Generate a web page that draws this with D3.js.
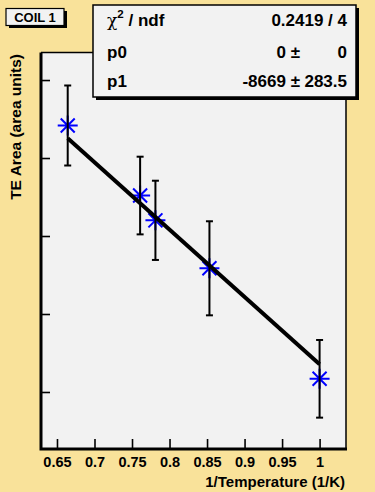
<!DOCTYPE html>
<html>
<head>
<meta charset="utf-8">
<script src="https://cdn.jsdelivr.net/npm/d3@7"></script>
<style>
  body { margin: 0; background: #f9e29c; }
  svg { display: block; font-family: "Liberation Sans", Arial, sans-serif; font-weight: bold; }
</style>
</head>
<body>
<svg id="chart" width="375" height="492"></svg>
<script>
// data
const invTemp = [0.6643, 0.7608, 0.7812, 0.8532, 1.0];
const teArea = [4417, 3519, 3201, 2586, 1169];
const teErr = [513, 498, 508, 603, 498];
const fitX = [0.6643, 1.0];
const fitY = [4253, 1355];

const xMajor = [0.65, 0.7, 0.75, 0.8, 0.85, 0.9, 0.95, 1.0];
const xTickLabels = ["0.65", "0.7", "0.75", "0.8", "0.85", "0.9", "0.95", "1"];
const xMinor = d3.range(63, 104).map((d) => d / 100);
const yMajor = [1000, 2000, 3000, 4000, 5000];
const yMinor = d3.range(2, 27).map((d) => d * 200);

const statNames = ["p0", "p1"];
const statVals = ["0", "-8669"];
const statErrs = ["0", "283.5"];

renderChart();

function renderChart() {
  let svg = d3.select("#chart");
  let left = 41, right = 346, top = 52.5, bottom = 449;

  let x = d3.scaleLinear().domain([0.6287, 1.0352]).range([left, right]),
    y = d3.scaleLinear().domain([269, 5353]).range([bottom, top]);

  svg.append("rect").attr("width", 375).attr("height", 492).attr("fill", "#f9e29a");

  // plot pad
  svg.append("rect")
    .attr("x", left).attr("y", top)
    .attr("width", right - left).attr("height", bottom - top)
    .attr("fill", "#f2f2f2");

  // x axis ticks (inward)
  let gx = svg.append("g").attr("transform", "translate(0," + bottom + ")");
  gx.call(d3.axisBottom(x).tickValues(xMinor).tickSize(-5).tickFormat(""));
  gx.call(d3.axisBottom(x).tickValues(xMajor).tickSize(-10).tickPadding(8)
    .tickFormat((d, i) => xTickLabels[i]));
  gx.selectAll(".domain").remove();
  gx.selectAll("line").attr("stroke", "#000").attr("stroke-width", 1.6);
  gx.selectAll("text")
    .attr("fill", "#000")
    .attr("font-size", "14.5px")
    .attr("font-family", "Liberation Sans, Arial, sans-serif")
    .attr("font-weight", "bold");

  // y axis ticks, no labels
  let gy = svg.append("g").attr("transform", "translate(" + left + ",0)");
  gy.call(d3.axisLeft(y).tickValues(yMinor).tickSize(-5).tickFormat(""));
  gy.call(d3.axisLeft(y).tickValues(yMajor).tickSize(-9).tickFormat(""));
  gy.selectAll(".domain").remove();
  gy.selectAll("line").attr("stroke", "#000").attr("stroke-width", 1.6);

  // frame
  svg.append("path")
    .attr("d", `M${left},${top}H${right}V${bottom}`)
    .attr("fill", "none").attr("stroke", "#000").attr("stroke-width", 1.5);
  svg.append("path")
    .attr("d", `M${left},${top}V${bottom}H${right + 1}`)
    .attr("fill", "none").attr("stroke", "#000").attr("stroke-width", 3);

  // markers
  let pts = invTemp.map((v, i) => ({ x: v, y: teArea[i], e: teErr[i] }));
  svg.selectAll(".star")
    .data(pts)
    .enter()
    .append("path")
    .attr("class", "star")
    .attr("transform", (d) => `translate(${x(d.x)},${y(d.y)})`)
    .attr("d", "M-10,0H10M0,-10V10M-7,-7L7,7M-7,7L7,-7")
    .attr("stroke", "#0000ff").attr("stroke-width", 2).attr("fill", "none");

  // error bars
  let eb = svg.selectAll(".err").data(pts).enter().append("g").attr("class", "err");
  eb.append("line")
    .attr("x1", (d) => x(d.x)).attr("x2", (d) => x(d.x))
    .attr("y1", (d) => y(d.y + d.e)).attr("y2", (d) => y(d.y - d.e))
    .attr("stroke", "#000").attr("stroke-width", 2);
  eb.selectAll(".cap")
    .data((d) => [d.y + d.e, d.y - d.e].map((v) => ({ x: d.x, v: v })))
    .enter()
    .append("line")
    .attr("x1", (d) => x(d.x) - 3.5).attr("x2", (d) => x(d.x) + 3.5)
    .attr("y1", (d) => y(d.v)).attr("y2", (d) => y(d.v))
    .attr("stroke", "#000").attr("stroke-width", 2);

  // fit line
  svg.append("path")
    .datum(fitX.map((v, i) => [v, fitY[i]]))
    .attr("d", d3.line().x((d) => x(d[0])).y((d) => y(d[1])))
    .attr("stroke", "#000").attr("stroke-width", 4).attr("fill", "none");

  // axis titles
  svg.append("text")
    .attr("x", 345).attr("y", 487)
    .attr("text-anchor", "end")
    .attr("font-size", "15px")
    .text("1/Temperature (1/K)");
  svg.append("text")
    .attr("transform", "translate(21,54) rotate(-90)")
    .attr("text-anchor", "end")
    .attr("font-size", "15.5px")
    .text("TE Area (area units)");

  // COIL 1 label
  svg.append("rect").attr("x", 9).attr("y", 11).attr("width", 58).attr("height", 17).attr("fill", "#000");
  svg.append("rect").attr("x", 6).attr("y", 8.5).attr("width", 58).attr("height", 17)
    .attr("fill", "#f2f2f2").attr("stroke", "#000").attr("stroke-width", 1.2);
  svg.append("text")
    .attr("x", 35).attr("y", 21.5)
    .attr("text-anchor", "middle")
    .attr("font-size", "13px")
    .text("COIL 1");

  // stats box
  svg.append("rect").attr("x", 96).attr("y", 8).attr("width", 263).attr("height", 92).attr("fill", "#000");
  svg.append("rect").attr("x", 93).attr("y", 5).attr("width", 263).attr("height", 92)
    .attr("fill", "#f2f2f2").attr("stroke", "#000").attr("stroke-width", 1.5);

  let chi = svg.append("text").attr("x", 107).attr("y", 26).attr("font-size", "17px");
  chi.append("tspan").attr("font-family", "DejaVu Serif, serif").attr("font-weight", "normal").text("χ");
  chi.append("tspan").attr("font-size", "11.5px").attr("dy", -8).text("2");
  chi.append("tspan").attr("dy", 8).text(" / ndf");
  svg.append("text").attr("x", 347).attr("y", 26).attr("text-anchor", "end")
    .attr("font-size", "17px").text("0.2419 / 4");

  statNames.forEach((n, i) => {
    let by = 58 + i * 29;
    svg.append("text").attr("x", 107).attr("y", by).attr("font-size", "17px").text(n);
    svg.append("text").attr("x", 300).attr("y", by).attr("text-anchor", "end")
      .attr("font-size", "17px").text(statVals[i] + " ±");
    svg.append("text").attr("x", 347).attr("y", by).attr("text-anchor", "end")
      .attr("font-size", "17px").text(statErrs[i]);
  });
}
</script>
</body>
</html>
